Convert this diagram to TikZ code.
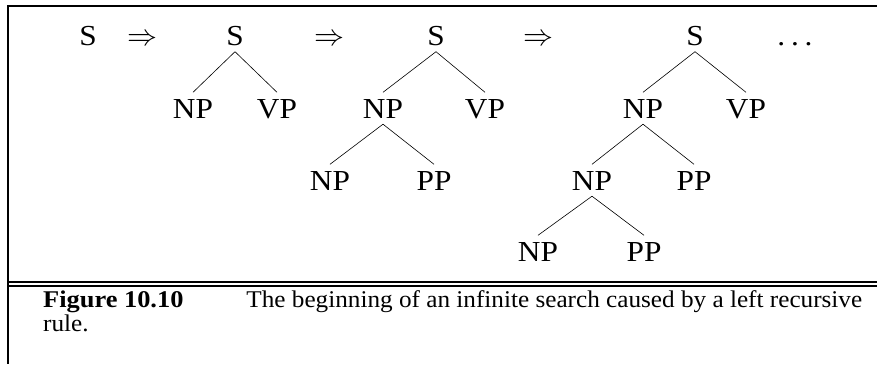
\documentclass[tikz,border=0pt]{standalone}
\usepackage{fix-cm}
\usepackage{fontspec}
\setmainfont[FakeStretch=1.05]{Liberation Serif}
\newfontfamily\treefont[FakeStretch=1.08]{Liberation Serif}
\newfontfamily\figbold[FakeStretch=1.1]{Liberation Serif}
\begin{document}
\begin{tikzpicture}[x=1pt,y=-1pt,
  lbl/.style={anchor=base,inner xsep=0pt,inner ysep=6pt,text height=19.5pt,text depth=0pt,
    font=\treefont\fontsize{29}{30}\selectfont},
  arr/.style={anchor=base,inner sep=0pt,font=\fontsize{30}{31}\selectfont},
  edge/.style={draw=black,line width=0.6pt},
  frame/.style={line width=2.2pt}]
\useasboundingbox (0,0) rectangle (877,364);
% frame
\draw[frame] (877,6) -- (8.1,6) -- (8.1,364);
\draw[line width=2pt] (8,282) -- (877,282);
\draw[line width=2pt] (8,286.3) -- (877,286.3);
% row 1
\node[lbl] (s0) at (88,45.5) {S};
\node[arr] (a1) at (142,45.5) {$\Rightarrow$};
\node[lbl] (t1s) at (235,45.5) {S};
\node[arr] (a2) at (329,45.5) {$\Rightarrow$};
\node[lbl] (t2s) at (436,45.5) {S};
\node[arr] (a3) at (538,45.5) {$\Rightarrow$};
\node[lbl] (t3s) at (695,45.5) {S};
\node[lbl] (dots) at (795,45.5) {.\kern0.2em.\kern0.2em.};
% row 2
\node[lbl] (t1np) at (193,118) {NP};
\node[lbl] (t1vp) at (277,118) {VP};
\node[lbl] (t2np) at (383,118) {NP};
\node[lbl] (t2vp) at (485,118) {VP};
\node[lbl] (t3np) at (643,118) {NP};
\node[lbl] (t3vp) at (746,118) {VP};
% row 3
\node[lbl] (t2np2) at (330,190) {NP};
\node[lbl] (t2pp2) at (434,190) {PP};
\node[lbl] (t3np2) at (592,190) {NP};
\node[lbl] (t3pp2) at (694,190) {PP};
% row 4
\node[lbl] (t3np3) at (538,261) {NP};
\node[lbl] (t3pp3) at (644,261) {PP};
% edges
\draw[edge] (t1s.south) -- (t1np.north);
\draw[edge] (t1s.south) -- (t1vp.north);
\draw[edge] (t2s.south) -- (t2np.north);
\draw[edge] (t2s.south) -- (t2vp.north);
\draw[edge] (t2np.south) -- (t2np2.north);
\draw[edge] (t2np.south) -- (t2pp2.north);
\draw[edge] (t3s.south) -- (t3np.north);
\draw[edge] (t3s.south) -- (t3vp.north);
\draw[edge] (t3np.south) -- (t3np2.north);
\draw[edge] (t3np.south) -- (t3pp2.north);
\draw[edge] (t3np2.south) -- (t3np3.north);
\draw[edge] (t3np2.south) -- (t3pp3.north);
% caption
\node[anchor=base west,inner sep=0pt,text width=819pt,align=justify,
  font=\fontsize{24}{24}\selectfont] (cap) at (43,307)
  {{\figbold\bfseries Figure 10.10}\hspace{63pt}The beginning of an infinite search caused by a left recursive\linebreak rule.};
\end{tikzpicture}
\end{document}
